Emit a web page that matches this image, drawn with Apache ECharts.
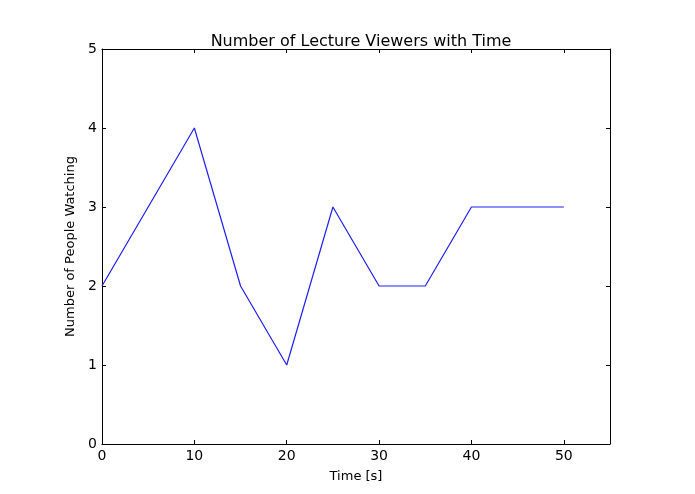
<!DOCTYPE html>
<html>
<head>
<meta charset="utf-8">
<script src="https://cdn.jsdelivr.net/npm/echarts@6/dist/echarts.min.js"></script>
<style>html,body{margin:0;padding:0;background:#fff;}#c{width:695px;height:494px;}</style>
</head>
<body>
<div id="c"></div>
<script>
const timeValues = [0, 5, 10, 15, 20, 25, 30, 35, 40, 45, 50];
const viewers = [2, 3, 4, 2, 1, 3, 2, 2, 3, 3, 3];
const xTicks = [0, 10, 20, 30, 40, 50];
const yTicks = [0, 1, 2, 3, 4, 5];

const chart = echarts.init(document.getElementById('c'));
const font = 'DejaVu Sans';
const axisLine = {show: true, onZero: false, lineStyle: {color: '#000', width: 1}};
const xTick = {show: true, inside: true, length: 4, customValues: xTicks, lineStyle: {color: '#000'}};
const yTick = {show: true, inside: true, length: 4, customValues: yTicks, lineStyle: {color: '#000'}};
chart.setOption({
  animation: false,
  title: {text: 'Number of Lecture Viewers with Time', left: 356, textAlign: 'center', top: 29,
    textStyle: {fontFamily: font, fontSize: 16, fontWeight: 'normal', color: '#000'}},
  grid: {left: 102, top: 49, right: 85, bottom: 50},
  xAxis: [{
    type: 'value', min: 0, max: 55, position: 'bottom',
    name: 'Time [s]', nameLocation: 'middle', nameGap: 26,
    nameTextStyle: {fontFamily: font, fontSize: 13, color: '#000'},
    axisLine, axisTick: xTick,
    axisLabel: {fontFamily: font, fontSize: 14, color: '#000', margin: 5, customValues: xTicks},
    splitLine: {show: false}
  }, {
    type: 'value', min: 0, max: 55, position: 'top',
    axisLine, axisTick: xTick, axisLabel: {show: false}, splitLine: {show: false}
  }],
  yAxis: [{
    type: 'value', min: 0, max: 5, position: 'left',
    name: 'Number of People Watching', nameLocation: 'middle', nameGap: 19,
    nameTextStyle: {fontFamily: font, fontSize: 13, color: '#000'},
    axisLine, axisTick: yTick,
    axisLabel: {fontFamily: font, fontSize: 14, color: '#000', margin: 5, customValues: yTicks},
    splitLine: {show: false}
  }, {
    type: 'value', min: 0, max: 5, position: 'right',
    axisLine, axisTick: yTick, axisLabel: {show: false}, splitLine: {show: false}
  }],
  series: [{
    type: 'line',
    data: timeValues.map((t, i) => [t, viewers[i]]),
    showSymbol: false,
    lineStyle: {color: '#2020ee', width: 1.2},
    itemStyle: {color: '#2020ee'}
  }]
});
</script>
</body>
</html>
